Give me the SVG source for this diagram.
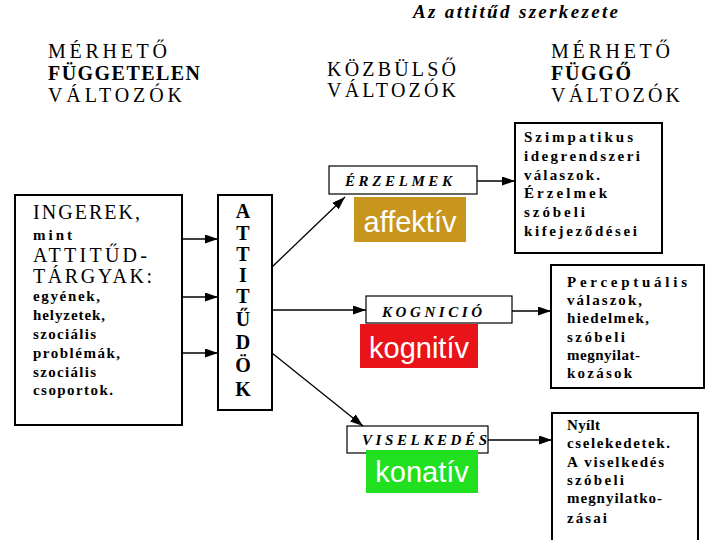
<svg xmlns="http://www.w3.org/2000/svg" width="720" height="540" viewBox="0 0 720 540">
<style>
.hd{font-family:"Liberation Serif","DejaVu Serif",serif;font-size:20px;fill:#000}
.hb{font-weight:bold}
.ttl{font-family:"Liberation Serif","DejaVu Serif",serif;font-size:19px;font-weight:bold;font-style:italic;fill:#000}
.big{fill:#fff;stroke:#000;stroke-width:2}
.sm{fill:#fff;stroke:#000;stroke-width:1.2}
.t17{font-family:"Liberation Serif","DejaVu Serif",serif;font-size:20px;fill:#000}
.tb{font-family:"Liberation Serif","DejaVu Serif",serif;font-size:15px;font-weight:bold;fill:#000}
.att{font-family:"Liberation Serif","DejaVu Serif",serif;font-size:20px;font-weight:bold;fill:#000;text-anchor:middle}
.lab{font-family:"Liberation Serif","DejaVu Serif",serif;font-size:15px;font-weight:bold;font-style:italic;fill:#000}
.tag{font-family:"Liberation Sans",Arial,sans-serif;font-size:29px;fill:#fff;text-anchor:middle}
.c{stroke:#000;stroke-width:1.3;fill:none}
</style>
<defs>
<marker id="ah" markerUnits="userSpaceOnUse" markerWidth="14" markerHeight="10" refX="13" refY="4.5" orient="auto">
<path d="M0,0 L13,4.5 L0,9 z" fill="#000"/>
</marker>
</defs>
<text class="ttl" x="413" y="18" textLength="205" lengthAdjust="spacing">Az attitűd szerkezete</text>
<g id="hdr-left">
<text class="hd" x="48" y="58" textLength="119" lengthAdjust="spacing">MÉRHETŐ</text>
<text class="hd hb" x="48" y="80" textLength="152" lengthAdjust="spacing">FÜGGETELEN</text>
<text class="hd" x="48" y="102" textLength="134" lengthAdjust="spacing">VÁLTOZÓK</text>
</g>
<g id="hdr-mid">
<text class="hd" x="327" y="76" textLength="129" lengthAdjust="spacing">KÖZBÜLSŐ</text>
<text class="hd" x="327" y="97" textLength="129" lengthAdjust="spacing">VÁLTOZÓK</text>
</g>
<g id="hdr-right">
<text class="hd" x="551" y="58" textLength="119" lengthAdjust="spacing">MÉRHETŐ</text>
<text class="hd hb" x="551" y="80" textLength="80" lengthAdjust="spacing">FÜGGŐ</text>
<text class="hd" x="551" y="102" textLength="129" lengthAdjust="spacing">VÁLTOZÓK</text>
</g>
<g id="ingerek">
<rect class="big" x="15" y="195" width="167" height="230"/>
<text class="t17" x="33" y="219" textLength="107" lengthAdjust="spacing">INGEREK,</text>
<text class="tb" x="33" y="240" font-size="17" textLength="39" lengthAdjust="spacing">mint</text>
<text class="t17" x="33" y="262" textLength="114" lengthAdjust="spacing">ATTITŰD-</text>
<text class="t17" x="33" y="283" textLength="119" lengthAdjust="spacing">TÁRGYAK:</text>
<text class="tb" x="33" y="301" textLength="67" lengthAdjust="spacing">egyének,</text>
<text class="tb" x="33" y="320" textLength="72" lengthAdjust="spacing">helyzetek,</text>
<text class="tb" x="33" y="339" textLength="63" lengthAdjust="spacing">szociális</text>
<text class="tb" x="33" y="358" textLength="87" lengthAdjust="spacing">problémák,</text>
<text class="tb" x="33" y="377" textLength="63" lengthAdjust="spacing">szociális</text>
<text class="tb" x="33" y="395" textLength="80" lengthAdjust="spacing">csoportok.</text>
</g>
<g id="attitudok">
<rect class="big" x="218" y="195" width="54" height="215"/>
<text class="att" x="243" y="218">A</text>
<text class="att" x="243" y="240">T</text>
<text class="att" x="243" y="261">T</text>
<text class="att" x="243" y="282">I</text>
<text class="att" x="243" y="303">T</text>
<text class="att" x="243" y="326">Ű</text>
<text class="att" x="243" y="349">D</text>
<text class="att" x="243" y="372">Ö</text>
<text class="att" x="243" y="396">K</text>
</g>
<g id="erzelmek">
<rect class="sm" x="329" y="166" width="148" height="28"/>
<text class="lab" x="345" y="186" textLength="107" lengthAdjust="spacing">ÉRZELMEK</text>
<rect x="354" y="197" width="112" height="45" fill="#C8961C"/>
<text class="tag" x="410" y="232">affektív</text>
</g>
<g id="kognicio">
<rect class="sm" x="366" y="296" width="146" height="27"/>
<text class="lab" x="382" y="317" textLength="100" lengthAdjust="spacing">KOGNICIÓ</text>
<rect x="360" y="324" width="118" height="44" fill="#E8141A"/>
<text class="tag" x="419" y="358">kognitív</text>
</g>
<g id="viselkedes">
<rect class="sm" x="347" y="426" width="141" height="27"/>
<text class="lab" x="362" y="445" textLength="125" lengthAdjust="spacing">VISELKEDÉS</text>
<rect x="366" y="450" width="112" height="43" fill="#20E020"/>
<text class="tag" x="422" y="482">konatív</text>
</g>
<g id="valasz1">
<rect class="big" x="515" y="123" width="147" height="130"/>
<text class="tb" x="524" y="142" textLength="109" lengthAdjust="spacing">Szimpatikus</text>
<text class="tb" x="524" y="161" textLength="116" lengthAdjust="spacing">idegrendszeri</text>
<text class="tb" x="524" y="180" textLength="76" lengthAdjust="spacing">válaszok.</text>
<text class="tb" x="524" y="198" textLength="83" lengthAdjust="spacing">Érzelmek</text>
<text class="tb" x="524" y="217" textLength="61" lengthAdjust="spacing">szóbeli</text>
<text class="tb" x="524" y="236" textLength="113" lengthAdjust="spacing">kifejeződései</text>
</g>
<g id="valasz2">
<rect class="big" x="551" y="265" width="153" height="123"/>
<text class="tb" x="567" y="287" textLength="120" lengthAdjust="spacing">Perceptuális</text>
<text class="tb" x="567" y="305" textLength="75" lengthAdjust="spacing">válaszok,</text>
<text class="tb" x="567" y="323" textLength="82" lengthAdjust="spacing">hiedelmek,</text>
<text class="tb" x="567" y="342" textLength="58" lengthAdjust="spacing">szóbeli</text>
<text class="tb" x="567" y="360" textLength="73" lengthAdjust="spacing">megnyilat-</text>
<text class="tb" x="567" y="378" textLength="65" lengthAdjust="spacing">kozások</text>
</g>
<g id="valasz3">
<rect class="big" x="552" y="413" width="146" height="135"/>
<text class="tb" x="567" y="430" textLength="33" lengthAdjust="spacing">Nyílt</text>
<text class="tb" x="567" y="448" textLength="103" lengthAdjust="spacing">cselekedetek.</text>
<text class="tb" x="567" y="467" textLength="97" lengthAdjust="spacing">A viselkedés</text>
<text class="tb" x="567" y="485" textLength="57" lengthAdjust="spacing">szóbeli</text>
<text class="tb" x="567" y="503" textLength="95" lengthAdjust="spacing">megnyilatko-</text>
<text class="tb" x="567" y="523" textLength="40" lengthAdjust="spacing">zásai</text>
</g>
<g id="connectors">
<line class="c" x1="182" y1="239" x2="218" y2="239" marker-end="url(#ah)"/>
<line class="c" x1="182" y1="297" x2="218" y2="297" marker-end="url(#ah)"/>
<line class="c" x1="182" y1="353" x2="218" y2="353" marker-end="url(#ah)"/>
<line class="c" stroke-width="1" x1="272" y1="267" x2="345" y2="197" marker-end="url(#ah)"/>
<line class="c" x1="272" y1="310" x2="366" y2="310" marker-end="url(#ah)"/>
<line class="c" stroke-width="1" x1="272" y1="353" x2="363" y2="426" marker-end="url(#ah)"/>
<line class="c" x1="477" y1="181" x2="515" y2="181" marker-end="url(#ah)"/>
<line class="c" x1="512" y1="311" x2="551" y2="311" marker-end="url(#ah)"/>
<line class="c" x1="488" y1="440" x2="552" y2="440" marker-end="url(#ah)"/>
</g>
</svg>
